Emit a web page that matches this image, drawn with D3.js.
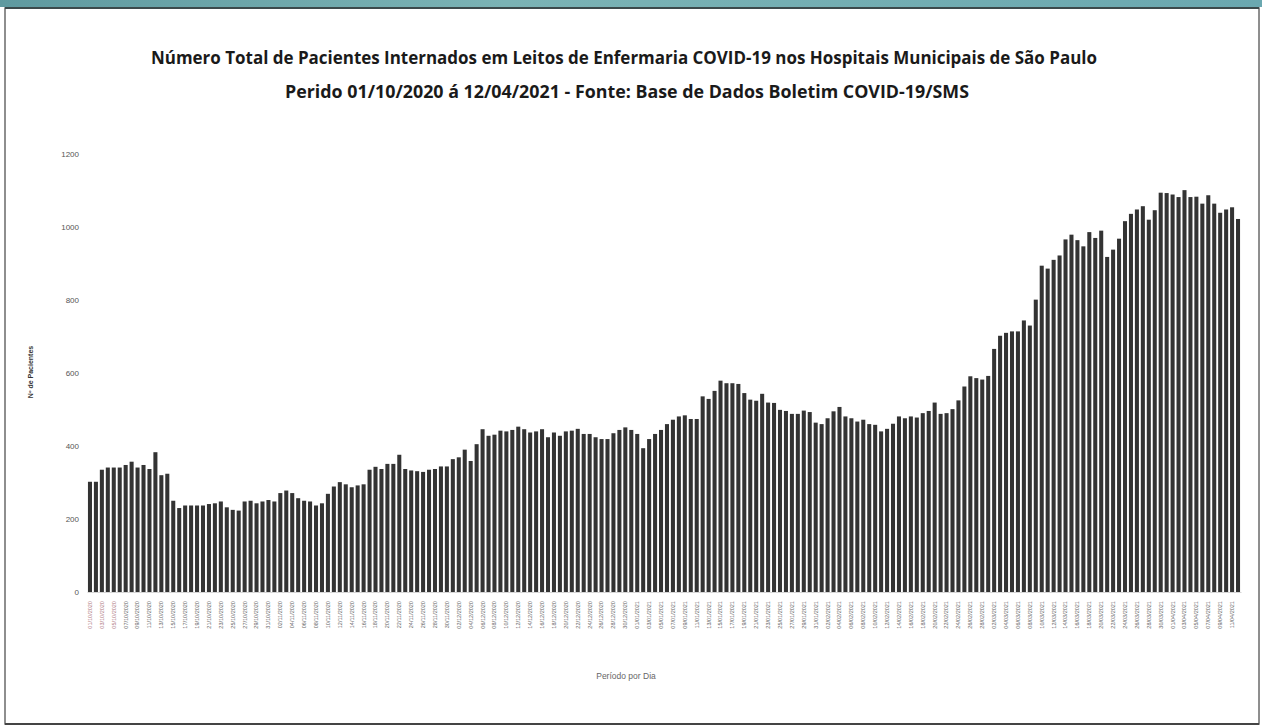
<!DOCTYPE html>
<html>
<head>
<meta charset="utf-8">
<script src="https://cdn.jsdelivr.net/npm/d3@7"></script>
<style>
  html, body { margin: 0; padding: 0; background: #fff; }
  svg { display: block; }
</style>
</head>
<body>
<svg id="chart" width="1262" height="728"></svg>
<script>
const titleLine1 = "Número Total de Pacientes Internados em Leitos de Enfermaria COVID-19 nos Hospitais Municipais de São Paulo";
const titleLine2 = "Perido 01/10/2020 á 12/04/2021 - Fonte: Base de Dados Boletim COVID-19/SMS";
const yAxisTitle = "Nº de Pacientes";
const xAxisTitle = "Período por Dia";
const startDate = "2020-10-01";
const endDate = "2021-04-12";
const yTicks = [0, 200, 400, 600, 800, 1000, 1200];
const patients = [
  302, 302, 335, 341, 341, 341, 348, 357, 341, 348, 337, 383, 320, 324,
  250, 230, 237, 237, 237, 237, 241, 243, 248, 232, 225, 223, 248, 250, 243, 248, 252, 248,
  271, 278, 271, 257, 250, 248, 237, 243, 269, 289, 301, 295, 287, 292, 295, 335, 343, 337,
  351, 351, 376, 337, 333, 331, 329, 335, 337, 344, 344, 364, 369, 390, 359, 405,
  446, 428, 431, 442, 440, 444, 453, 446, 437, 440, 446, 424, 437, 428, 440, 442, 447, 433,
  433, 424, 419, 419, 435, 444, 451, 444, 433, 394, 419, 433, 444, 460,
  472, 481, 484, 474, 474, 536, 529, 551, 579, 572, 572, 570, 545, 527, 524, 543, 519, 518,
  499, 496, 488, 488, 497, 493, 464, 460, 476, 495, 507, 481, 476, 467, 472,
  460, 458, 440, 447, 461, 481, 476, 481, 478, 490, 496, 519, 488, 490, 501, 525, 563, 591,
  586, 582, 592, 666, 702, 710, 714, 714, 744, 730, 801, 894, 886,
  910, 922, 966, 979, 964, 947, 986, 970, 990, 918, 938, 968, 1016, 1036, 1048, 1057, 1020,
  1046, 1094, 1093, 1089, 1082, 1101, 1082, 1083, 1064, 1087, 1064, 1039, 1048, 1054, 1022
];

const parse = d3.utcParse("%Y-%m-%d");
const fmt = d3.utcFormat("%d/%m/%Y");
const days = d3.utcDay.range(parse(startDate), d3.utcDay.offset(parse(endDate), 1));
const categories = days.map(fmt);
const data = categories.map((c, i) => ({ date: c, value: patients[i] }));

const svg = d3.select("#chart");
const W = 1262, H = 728;

// frame
const defs = svg.append("defs");
const grad = defs.append("linearGradient").attr("id", "topStrip").attr("x1", 0).attr("x2", 1).attr("y1", 0).attr("y2", 0);
grad.append("stop").attr("offset", "0%").attr("stop-color", "#5f9aa0");
grad.append("stop").attr("offset", "40%").attr("stop-color", "#7ab3b5");
grad.append("stop").attr("offset", "100%").attr("stop-color", "#6aa8b0");
svg.append("rect").attr("x", 0).attr("y", 0).attr("width", W).attr("height", 7).attr("fill", "url(#topStrip)");
svg.append("rect").attr("x", 5).attr("y", 8).attr("width", 1254).attr("height", 716)
  .attr("fill", "#fff").attr("stroke", "#6a6a6a").attr("stroke-width", 1.5);
svg.append("line").attr("x1", 5).attr("x2", 1259).attr("y1", 8).attr("y2", 8).attr("stroke", "#3c4a4c").attr("stroke-width", 2);
svg.append("line").attr("x1", 5).attr("x2", 1259).attr("y1", 724).attr("y2", 724).attr("stroke", "#444").attr("stroke-width", 2);

const titleFont = "'Liberation Sans Narrow', 'Open Sans', 'Liberation Sans', sans-serif";
svg.append("text").attr("x", 624).attr("y", 64).attr("text-anchor", "middle")
  .attr("font-family", titleFont).attr("font-weight", "bold").attr("font-size", 18)
  .attr("fill", "#1a1a1a").attr("textLength", 946).attr("lengthAdjust", "spacingAndGlyphs")
  .text(titleLine1);
svg.append("text").attr("x", 627).attr("y", 98).attr("text-anchor", "middle")
  .attr("font-family", titleFont).attr("font-weight", "bold").attr("font-size", 18)
  .attr("fill", "#1a1a1a").attr("textLength", 684).attr("lengthAdjust", "spacingAndGlyphs")
  .text(titleLine2);

const x = d3.scaleBand().domain(categories).range([87, 1241]).paddingInner(0.32).paddingOuter(0.16);
const y = d3.scaleLinear().domain([0, 1200]).range([592, 154]);

svg.append("g").selectAll("rect").data(data).join("rect")
  .attr("x", d => x(d.date))
  .attr("y", d => y(d.value))
  .attr("width", x.bandwidth())
  .attr("height", d => y(0) - y(d.value))
  .attr("fill", "#333333");

// y axis
const yAxis = svg.append("g").attr("transform", "translate(79,0)")
  .call(d3.axisLeft(y).tickValues(yTicks).tickFormat(d3.format("d")).tickSize(0).tickPadding(0));
yAxis.select(".domain").remove();
yAxis.selectAll("text").attr("font-family", "'Liberation Sans Narrow', 'Liberation Sans', sans-serif")
  .attr("font-size", 8).attr("fill", "#555");

// x axis baseline and labels
const xAxis = svg.append("g").attr("transform", "translate(0,592)")
  .call(d3.axisBottom(x).tickValues(categories.filter((c, i) => i % 2 === 0)).tickSize(0).tickPadding(0));
xAxis.select(".domain").attr("stroke", "#bbb").attr("stroke-width", 0.6);
xAxis.selectAll("text")
  .attr("font-family", "'Liberation Sans', Arial, sans-serif")
  .attr("font-size", 5.5)
  .attr("fill", (d, i) => i < 3 ? "#b07a84" : "#666")
  .attr("text-anchor", "end")
  .attr("dx", "-0.2em").attr("dy", "0.35em")
  .attr("x", 0).attr("y", 0)
  .attr("transform", "translate(0,8) rotate(-90)");

// axis titles
svg.append("text").attr("transform", "translate(33,372) rotate(-90)").attr("text-anchor", "middle")
  .attr("font-family", "'Liberation Sans', sans-serif").attr("font-weight", "bold").attr("font-size", 7)
  .attr("fill", "#333").text(yAxisTitle);
svg.append("text").attr("x", 626).attr("y", 679).attr("text-anchor", "middle")
  .attr("font-family", "'Liberation Sans Narrow', 'Liberation Sans', sans-serif").attr("font-size", 8.5)
  .attr("fill", "#666").text(xAxisTitle);
</script>
</body>
</html>
